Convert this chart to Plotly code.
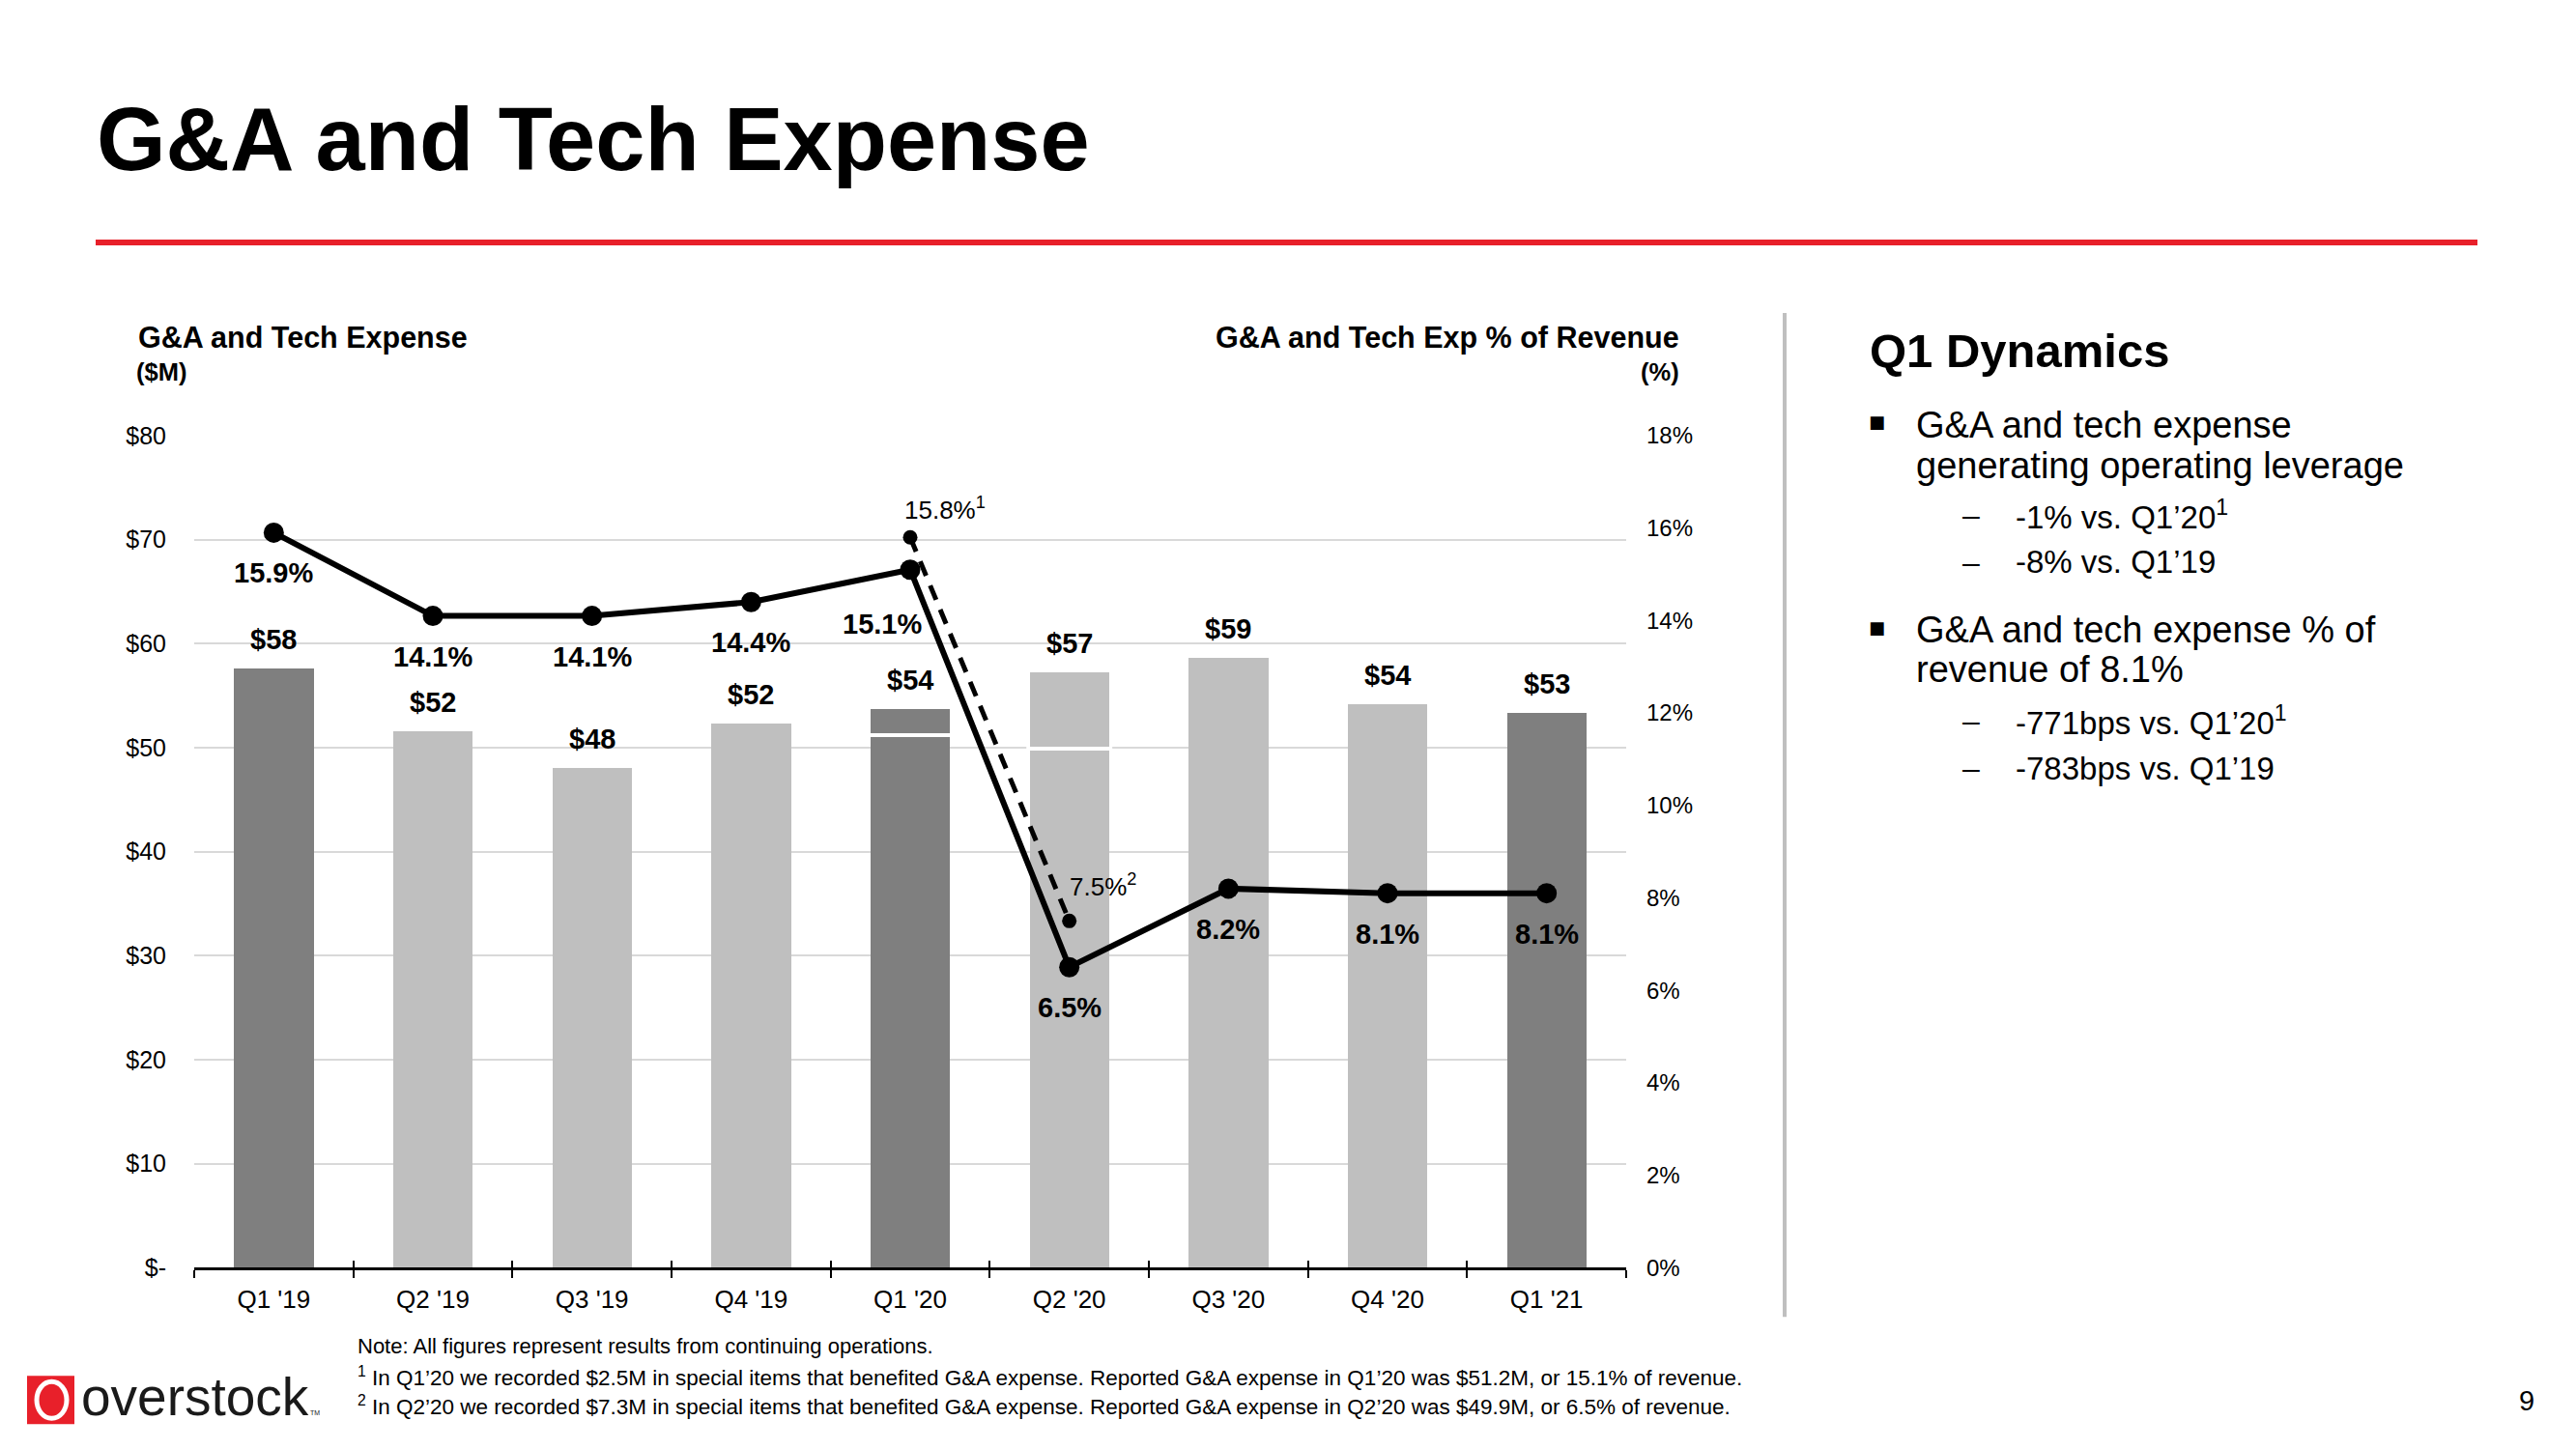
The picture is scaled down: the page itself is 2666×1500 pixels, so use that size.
import plotly.graph_objects as go

W, H = 2666, 1500
# the photographed page maps figure paper vertically as Y = OFF + SC * y
OFF, SC = 13.2, 0.981


def px(x):
    return x / W


def py(y):
    return 1 - ((y - OFF) / SC) / H


# ---------------- data ----------------
quarters = ["Q1 '19", "Q2 '19", "Q3 '19", "Q4 '19", "Q1 '20", "Q2 '20", "Q3 '20", "Q4 '20", "Q1 '21"]
reported_exp = [57.6, 51.6, 48.0, 52.3, 51.2, 49.9, 58.6, 54.2, 53.3]   # $M
special_items = [None, None, None, None, 2.5, 7.3, None, None, None]      # $M benefit
pct_revenue = [15.9, 14.1, 14.1, 14.4, 15.1, 6.5, 8.2, 8.1, 8.1]          # %
adj_quarters = ["Q1 '20", "Q2 '20"]
adj_pct = [15.8, 7.5]
adj_notes = ["1", "2"]

left_tickvals = [0, 10, 20, 30, 40, 50, 60, 70, 80]
left_ticktext = ["$-", "$10", "$20", "$30", "$40", "$50", "$60", "$70", "$80"]
right_tickvals = [0, 2, 4, 6, 8, 10, 12, 14, 16, 18]
right_ticktext = ["0%", "2%", "4%", "6%", "8%", "10%", "12%", "14%", "16%", "18%"]

# ---------------- style ----------------
FONT = "Liberation Sans, Arial, sans-serif"
DARK = "#7F7F7F"
LIGHT = "#BFBFBF"
bar_colors = [DARK if q.startswith("Q1") else LIGHT for q in quarters]
totals = [r + (s or 0) for r, s in zip(reported_exp, special_items)]

fig = go.Figure()

fig.add_trace(go.Bar(x=quarters, y=reported_exp, marker=dict(color=bar_colors, line=dict(width=0)),
                     hoverinfo="skip", showlegend=False))
fig.add_trace(go.Bar(x=quarters, y=special_items, marker=dict(color=bar_colors, line=dict(width=0)),
                     hoverinfo="skip", showlegend=False))
# invisible trace carrying the inner tick-mark axis
fig.add_trace(go.Scatter(x=quarters, y=reported_exp, xaxis="x2", yaxis="y", mode="markers",
                         marker=dict(opacity=0), hoverinfo="skip", showlegend=False))
# adjusted (dashed)
fig.add_trace(go.Scatter(x=adj_quarters, y=adj_pct, yaxis="y2", mode="lines+markers",
                         line=dict(color="black", width=5, dash="16px,11px"),
                         marker=dict(color="black", size=15), hoverinfo="skip", showlegend=False))
# reported % of revenue
fig.add_trace(go.Scatter(x=quarters, y=pct_revenue, yaxis="y2", mode="lines+markers",
                         line=dict(color="black", width=6),
                         marker=dict(color="black", size=21), hoverinfo="skip", showlegend=False))

annotations = []
shapes = []

# bar value labels
for q, t in zip(quarters, totals):
    annotations.append(dict(x=q, y=t, xref="x", yref="y", text=f"<b>${round(t)}</b>", showarrow=False,
                            xanchor="center", yanchor="middle", yshift=30,
                            font=dict(family=FONT, size=29, color="black")))

# white separators inside bars with special items
for i, (r, s) in enumerate(zip(reported_exp, special_items)):
    if s:
        shapes.append(dict(type="line", xref="x", yref="y", x0=i - 0.27, x1=i + 0.27, y0=r, y1=r,
                           line=dict(color="white", width=4), layer="above"))

# % labels
for q, p in zip(quarters, pct_revenue):
    xs, ys = 0, -42
    if q == "Q1 '20":
        xs, ys = -29, -56
    annotations.append(dict(x=q, y=p, xref="x", yref="y2", text=f"<b>{p:.1f}%</b>", showarrow=False,
                            xanchor="center", yanchor="middle", xshift=xs, yshift=ys,
                            font=dict(family=FONT, size=29, color="black")))
adj_shift = {"Q1 '20": (-8, 30), "Q2 '20": (-2, 37)}
for q, p, n in zip(adj_quarters, adj_pct, adj_notes):
    xs, ys = adj_shift[q]
    annotations.append(dict(x=q, y=p, xref="x", yref="y2", text=f"{p:.1f}%<sup>{n}</sup>", showarrow=False,
                            xanchor="left", yanchor="middle", xshift=xs, yshift=ys,
                            font=dict(family=FONT, size=26, color="black")))

# axis titles
annotations += [
    dict(x=px(141), y=py(349), xref="paper", yref="paper", text="<b>G&A and Tech Expense</b>",
         showarrow=False, xanchor="left", yanchor="middle", font=dict(family=FONT, size=30.5, color="black")),
    dict(x=px(139), y=py(384), xref="paper", yref="paper", text="<b>($M)</b>",
         showarrow=False, xanchor="left", yanchor="middle", font=dict(family=FONT, size=25.5, color="black")),
    dict(x=px(1740), y=py(349), xref="paper", yref="paper", text="<b>G&A and Tech Exp % of Revenue</b>",
         showarrow=False, xanchor="right", yanchor="middle", font=dict(family=FONT, size=30.5, color="black")),
    dict(x=px(1740), y=py(384), xref="paper", yref="paper", text="<b>(%)</b>",
         showarrow=False, xanchor="right", yanchor="middle", font=dict(family=FONT, size=25.5, color="black")),
]

# title
annotations.append(dict(x=px(98), y=py(143), xref="paper", yref="paper", text="<b>G&A and Tech Expense</b>",
                        showarrow=False, xanchor="left", yanchor="middle",
                        font=dict(family=FONT, size=92, color="black")))

# right panel
panel = [
    ("head", "<b>Q1 Dynamics</b>", 362),
    ("b1", "G&A and tech expense", 439),
    ("c1", "generating operating leverage", 481),
    ("s1", "-1% vs. Q1’20<sup>1</sup>", 532),
    ("s1", "-8% vs. Q1’19", 581),
    ("b1", "G&A and tech expense % of", 651),
    ("c1", "revenue of 8.1%", 692),
    ("s1", "-771bps vs. Q1’20<sup>1</sup>", 745),
    ("s1", "-783bps vs. Q1’19", 794),
]
for kind, txt, yy in panel:
    if kind == "head":
        annotations.append(dict(x=px(1933), y=py(yy), xref="paper", yref="paper", text=txt, showarrow=False,
                                xanchor="left", yanchor="middle", font=dict(family=FONT, size=49, color="black")))
        continue
    if kind == "b1":
        annotations.append(dict(x=px(1942), y=py(yy - 3), xref="paper", yref="paper", text="■", showarrow=False,
                                xanchor="center", yanchor="middle",
                                font=dict(family="DejaVu Sans, sans-serif", size=18, color="black")))
    if kind in ("b1", "c1"):
        annotations.append(dict(x=px(1981), y=py(yy), xref="paper", yref="paper", text=txt, showarrow=False,
                                xanchor="left", yanchor="middle", font=dict(family=FONT, size=38, color="black")))
    if kind == "s1":
        annotations.append(dict(x=px(2040), y=py(yy), xref="paper", yref="paper", text="–", showarrow=False,
                                xanchor="center", yanchor="middle", font=dict(family=FONT, size=32, color="black")))
        annotations.append(dict(x=px(2084), y=py(yy), xref="paper", yref="paper", text=txt, showarrow=False,
                                xanchor="left", yanchor="middle", font=dict(family=FONT, size=33, color="black")))

# footnotes
annotations += [
    dict(x=px(368), y=py(1392), xref="paper", yref="paper",
         text="Note: All figures represent results from continuing operations.",
         showarrow=False, xanchor="left", yanchor="middle", font=dict(family=FONT, size=22, color="black")),
    dict(x=px(368), y=py(1424), xref="paper", yref="paper",
         text="<sup>1</sup> In Q1’20 we recorded $2.5M in special items that benefited G&A expense. Reported G&A expense in Q1’20 was $51.2M, or 15.1% of revenue.",
         showarrow=False, xanchor="left", yanchor="middle", font=dict(family=FONT, size=22.5, color="black")),
    dict(x=px(368), y=py(1454), xref="paper", yref="paper",
         text="<sup>2</sup> In Q2’20 we recorded $7.3M in special items that benefited G&A expense. Reported G&A expense in Q2’20 was $49.9M, or 6.5% of revenue.",
         showarrow=False, xanchor="left", yanchor="middle", font=dict(family=FONT, size=22.5, color="black")),
    dict(x=px(2615), y=py(1449), xref="paper", yref="paper", text="9", showarrow=False,
         xanchor="center", yanchor="middle", font=dict(family=FONT, size=29, color="black")),
    # logo wordmark
    dict(x=px(82), y=py(1445), xref="paper", yref="paper", text="overstock", showarrow=False,
         xanchor="left", yanchor="middle", font=dict(family=FONT, size=55, color="#1a1a1a")),
    dict(x=px(319), y=py(1461), xref="paper", yref="paper", text="TM", showarrow=False,
         xanchor="left", yanchor="middle", font=dict(family=FONT, size=7, color="#1a1a1a")),
]

# decorative shapes
shapes += [
    dict(type="line", xref="paper", yref="paper", x0=px(99), x1=px(2564), y0=py(250), y1=py(250),
         line=dict(color="#E8202A", width=6)),
    dict(type="line", xref="paper", yref="paper", x0=px(1847), x1=px(1847), y0=py(323), y1=py(1362),
         line=dict(color="#BFBFBF", width=4)),
    dict(type="rect", xref="paper", yref="paper", x0=px(28), x1=px(77), y0=py(1473), y1=py(1423),
         fillcolor="#E8202A", line=dict(width=0)),
    dict(type="circle", xref="paper", yref="paper", x0=px(38), x1=px(69), y0=py(1467), y1=py(1429),
         line=dict(color="white", width=5)),
]

fig.update_layout(
    width=W, height=H, margin=dict(l=0, r=0, t=0, b=0),
    paper_bgcolor="white", plot_bgcolor="white",
    barmode="stack", bargap=0.5,
    font=dict(family=FONT, color="black"),
    xaxis=dict(domain=[px(201), px(1683)], type="category", categoryorder="array", categoryarray=quarters,
               range=[-0.5, 8.5], showline=True, linecolor="black", linewidth=3,
               ticks="outside", tickson="boundaries", ticklen=8, tickwidth=2, tickcolor="black",
               ticklabelstandoff=8,
               tickfont=dict(family=FONT, size=26, color="black"), showgrid=False, zeroline=False,
               fixedrange=True),
    xaxis2=dict(domain=[px(201), px(1683)], type="category", categoryorder="array", categoryarray=quarters,
                range=[-0.5, 8.5], overlaying="x", anchor="y", side="bottom", showline=False,
                ticks="inside", tickson="boundaries", ticklen=7, tickwidth=2, tickcolor="black",
                showticklabels=False, showgrid=False, zeroline=False),
    yaxis=dict(domain=[py(1311), py(450)], range=[0, 80], tickvals=left_tickvals, ticktext=left_ticktext,
               showgrid=True, gridcolor="#D9D9D9", gridwidth=2, zeroline=False, showline=False, ticks="",
               ticklabelstandoff=28, tickfont=dict(family=FONT, size=25, color="black")),
    yaxis2=dict(domain=[py(1311), py(450)], range=[0, 18], overlaying="y", side="right", anchor="x",
                tickvals=right_tickvals, ticktext=right_ticktext, showgrid=False, zeroline=False,
                showline=False, ticks="", ticklabelstandoff=20,
                tickfont=dict(family=FONT, size=24, color="black")),
    annotations=annotations,
    shapes=shapes,
)

fig.write_html("out.html")
